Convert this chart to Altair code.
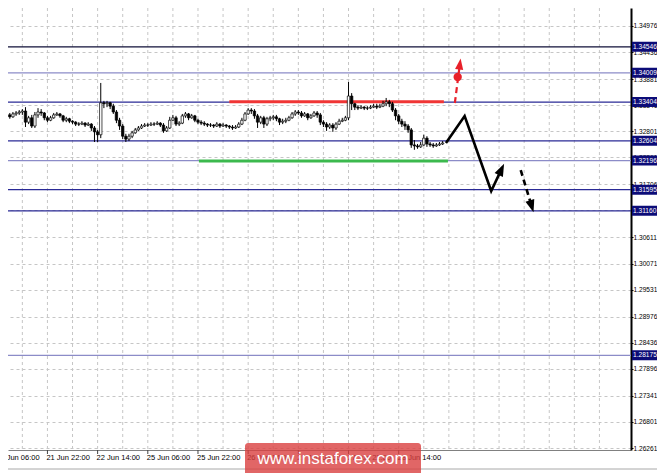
import altair as alt
import pandas as pd

# ---------------- data ----------------
# H1 bar index (0 = 21 Jun 06:00)
bar_t = list(range(3, 143))

bar_open = [
    1.3316, 1.3314, 1.3310, 1.3316, 1.3318, 1.3320, 1.3322, 1.3299, 1.3308, 1.3291,
    1.3314, 1.3320, 1.3318, 1.3308, 1.3303, 1.3308, 1.3314, 1.3316, 1.3312, 1.3303,
    1.3306, 1.3301, 1.3299, 1.3295, 1.3295, 1.3297, 1.3293, 1.3295, 1.3287, 1.3279,
    1.3273, 1.3339, 1.3337, 1.3339, 1.3332, 1.3320, 1.3303, 1.3291, 1.3270, 1.3264,
    1.3270, 1.3277, 1.3283, 1.3287, 1.3291, 1.3293, 1.3293, 1.3295, 1.3295, 1.3297,
    1.3293, 1.3281, 1.3287, 1.3303, 1.3308, 1.3295, 1.3297, 1.3312, 1.3316, 1.3308,
    1.3312, 1.3303, 1.3299, 1.3297, 1.3295, 1.3293, 1.3293, 1.3291, 1.3295, 1.3291,
    1.3293, 1.3291, 1.3289, 1.3287, 1.3289, 1.3295, 1.3303, 1.3316, 1.3324, 1.3322,
    1.3312, 1.3299, 1.3308, 1.3295, 1.3306, 1.3308, 1.3310, 1.3306, 1.3299, 1.3301,
    1.3303, 1.3308, 1.3316, 1.3320, 1.3318, 1.3312, 1.3316, 1.3308, 1.3312, 1.3318,
    1.3314, 1.3299, 1.3295, 1.3289, 1.3293, 1.3287, 1.3295, 1.3301, 1.3303, 1.3308,
    1.3353, 1.3337, 1.3330, 1.3328, 1.3330, 1.3328, 1.3328, 1.3330, 1.3332, 1.3330,
    1.3332, 1.3337, 1.3341, 1.3337, 1.3324, 1.3312, 1.3301, 1.3295, 1.3291, 1.3283,
    1.3252, 1.3250, 1.3248, 1.3252, 1.3266, 1.3254, 1.3252, 1.3250, 1.3252, 1.3254,
]
bar_high = [
    1.3320, 1.3318, 1.3320, 1.3322, 1.3324, 1.3326, 1.3330, 1.3312, 1.3314, 1.3320,
    1.3328, 1.3326, 1.3320, 1.3312, 1.3312, 1.3318, 1.3320, 1.3318, 1.3314, 1.3310,
    1.3308, 1.3303, 1.3301, 1.3299, 1.3301, 1.3299, 1.3299, 1.3297, 1.3291, 1.3283,
    1.3380, 1.3343, 1.3343, 1.3341, 1.3337, 1.3324, 1.3308, 1.3295, 1.3275, 1.3275,
    1.3281, 1.3287, 1.3291, 1.3295, 1.3297, 1.3297, 1.3299, 1.3299, 1.3301, 1.3299,
    1.3297, 1.3291, 1.3310, 1.3314, 1.3312, 1.3301, 1.3316, 1.3320, 1.3318, 1.3316,
    1.3314, 1.3306, 1.3303, 1.3301, 1.3297, 1.3297, 1.3295, 1.3299, 1.3297, 1.3297,
    1.3295, 1.3293, 1.3293, 1.3293, 1.3299, 1.3308, 1.3320, 1.3328, 1.3328, 1.3326,
    1.3316, 1.3312, 1.3312, 1.3310, 1.3312, 1.3314, 1.3314, 1.3308, 1.3306, 1.3308,
    1.3312, 1.3320, 1.3324, 1.3324, 1.3322, 1.3320, 1.3318, 1.3316, 1.3322, 1.3322,
    1.3318, 1.3303, 1.3299, 1.3297, 1.3297, 1.3299, 1.3306, 1.3308, 1.3312, 1.3382,
    1.3359, 1.3339, 1.3334, 1.3334, 1.3332, 1.3332, 1.3334, 1.3337, 1.3337, 1.3337,
    1.3343, 1.3349, 1.3345, 1.3341, 1.3328, 1.3316, 1.3306, 1.3301, 1.3295, 1.3287,
    1.3262, 1.3254, 1.3258, 1.3273, 1.3270, 1.3258, 1.3256, 1.3256, 1.3258, 1.3260,
]
bar_low = [
    1.3308, 1.3306, 1.3308, 1.3312, 1.3314, 1.3314, 1.3289, 1.3295, 1.3287, 1.3287,
    1.3308, 1.3312, 1.3303, 1.3299, 1.3301, 1.3306, 1.3312, 1.3308, 1.3299, 1.3299,
    1.3297, 1.3295, 1.3291, 1.3291, 1.3293, 1.3289, 1.3291, 1.3281, 1.3258, 1.3258,
    1.3266, 1.3328, 1.3330, 1.3326, 1.3316, 1.3297, 1.3283, 1.3264, 1.3258, 1.3260,
    1.3266, 1.3275, 1.3281, 1.3285, 1.3289, 1.3289, 1.3291, 1.3291, 1.3293, 1.3289,
    1.3277, 1.3279, 1.3285, 1.3301, 1.3291, 1.3291, 1.3295, 1.3308, 1.3303, 1.3306,
    1.3299, 1.3295, 1.3293, 1.3291, 1.3289, 1.3289, 1.3287, 1.3289, 1.3287, 1.3289,
    1.3287, 1.3285, 1.3283, 1.3285, 1.3287, 1.3293, 1.3301, 1.3314, 1.3316, 1.3306,
    1.3287, 1.3295, 1.3287, 1.3291, 1.3301, 1.3303, 1.3301, 1.3293, 1.3295, 1.3297,
    1.3301, 1.3306, 1.3312, 1.3314, 1.3308, 1.3310, 1.3303, 1.3306, 1.3310, 1.3308,
    1.3293, 1.3289, 1.3281, 1.3285, 1.3279, 1.3283, 1.3293, 1.3299, 1.3301, 1.3303,
    1.3324, 1.3324, 1.3324, 1.3326, 1.3324, 1.3324, 1.3326, 1.3328, 1.3326, 1.3328,
    1.3330, 1.3332, 1.3330, 1.3320, 1.3303, 1.3295, 1.3289, 1.3283, 1.3277, 1.3246,
    1.3242, 1.3244, 1.3246, 1.3250, 1.3248, 1.3248, 1.3246, 1.3248, 1.3250, 1.3252,
]
bar_close = [
    1.3314, 1.3310, 1.3316, 1.3318, 1.3320, 1.3322, 1.3299, 1.3308, 1.3291, 1.3314,
    1.3320, 1.3318, 1.3308, 1.3303, 1.3308, 1.3314, 1.3316, 1.3312, 1.3303, 1.3306,
    1.3301, 1.3299, 1.3295, 1.3295, 1.3297, 1.3293, 1.3295, 1.3287, 1.3279, 1.3273,
    1.3339, 1.3337, 1.3339, 1.3332, 1.3320, 1.3303, 1.3291, 1.3270, 1.3264, 1.3270,
    1.3277, 1.3283, 1.3287, 1.3291, 1.3293, 1.3293, 1.3295, 1.3295, 1.3297, 1.3293,
    1.3281, 1.3287, 1.3303, 1.3308, 1.3295, 1.3297, 1.3312, 1.3316, 1.3308, 1.3312,
    1.3303, 1.3299, 1.3297, 1.3295, 1.3293, 1.3293, 1.3291, 1.3295, 1.3291, 1.3293,
    1.3291, 1.3289, 1.3287, 1.3289, 1.3295, 1.3303, 1.3316, 1.3324, 1.3322, 1.3312,
    1.3299, 1.3308, 1.3295, 1.3306, 1.3308, 1.3310, 1.3306, 1.3299, 1.3301, 1.3303,
    1.3308, 1.3316, 1.3320, 1.3318, 1.3312, 1.3316, 1.3308, 1.3312, 1.3318, 1.3314,
    1.3299, 1.3295, 1.3289, 1.3293, 1.3287, 1.3295, 1.3301, 1.3303, 1.3308, 1.3353,
    1.3337, 1.3330, 1.3328, 1.3330, 1.3328, 1.3328, 1.3330, 1.3332, 1.3330, 1.3332,
    1.3337, 1.3341, 1.3337, 1.3324, 1.3312, 1.3301, 1.3295, 1.3291, 1.3283, 1.3252,
    1.3250, 1.3248, 1.3252, 1.3266, 1.3254, 1.3252, 1.3250, 1.3252, 1.3254, 1.3256,
]

price_ticks = [1.34976, 1.34436, 1.33881, 1.33341, 1.32801, 1.32261, 1.31706, 1.31166,
               1.30611, 1.30071, 1.29531, 1.28976, 1.28436, 1.27896, 1.27341, 1.26801, 1.26261]

time_ticks = [0, 16, 32, 48, 64, 80, 96, 112, 128]
time_labels = ["21 Jun 06:00", "21 Jun 22:00", "22 Jun 14:00", "25 Jun 06:00", "25 Jun 22:00",
               "26 Jun 14:00", "27 Jun 06:00", "27 Jun 22:00", "28 Jun 14:00"]
grid_t = [8, 16, 24, 32, 40, 48, 56, 64, 72, 80, 88, 96, 104, 112, 120, 128, 136, 144,
          152, 160, 168, 176, 184, 192]

levels = [1.34546, 1.34009, 1.33404, 1.32604, 1.32196, 1.31595, 1.31160, 1.28175]
level_kind = ["dark", "light", "navy", "navy", "light", "navy", "navy", "light"]

resist_t = [74.0, 142.4]
resist_p = [1.33410, 1.33410]
support_t = [64.3, 143.7]
support_p = [1.32190, 1.32190]

main_t = [143.06, 149.02, 157.49, 160.75]
main_p = [1.32560, 1.33117, 1.31568, 1.32015]
alt_t = [166.9, 170.4]
alt_p = [1.32002, 1.31252]
red_t = [145.9, 147.5]
red_p = [1.33386, 1.34191]
dot_t = [146.8]
dot_p = [1.33923]
head_t = [160.75, 170.4, 147.5]
head_p = [1.32015, 1.31252, 1.34191]
head_ang = [25.7, 162.8, 7.8]
head_col = ["black", "black", "red"]

# ---------------- chart ----------------
W, H = 623, 442
FONT = "Liberation Sans"
LAB_SIZE = 6.6
xs = alt.Scale(domain=[5.02, 200.47], nice=False, zero=False)
ys = alt.Scale(domain=[1.262197, 1.353477], nice=False, zero=False)
x_axis = alt.Axis(labels=False, ticks=False, grid=False, domainColor="#808080",
                  domainWidth=1, title=None)
y_axis = alt.Axis(orient="right", values=price_ticks, format=".5f", title=None,
                  labelFont=FONT, labelFontSize=LAB_SIZE, labelColor="black",
                  labelPadding=0, labelFlush=False, labelOverlap=False,
                  tickColor="black", tickSize=2, domainColor="black", domainWidth=2,
                  grid=True, gridDash=[3, 3], gridColor="#c6c6c6", gridWidth=1)


def X(f):
    return alt.X(f, type="quantitative", scale=xs, axis=x_axis)


def Y(f):
    return alt.Y(f, type="quantitative", scale=ys, axis=y_axis)


bars = pd.DataFrame({"t": bar_t, "o": bar_open, "h": bar_high, "l": bar_low, "c": bar_close})
lev = pd.DataFrame({"p": levels, "kind": level_kind,
                    "lab": [f"{v:.5f}" for v in levels]})
tl = pd.DataFrame({"t": time_ticks, "lab": time_labels})
gt = pd.DataFrame({"t": grid_t})
one = pd.DataFrame({"a": [0]})
heads_df = pd.DataFrame({"t": head_t, "p": head_p, "ang": head_ang, "col": head_col})

vgrid = alt.Chart(gt).mark_rule(strokeDash=[3, 3], color="#c6c6c6", strokeWidth=1).encode(
    x=X("t"))

level_lines = alt.Chart(lev).mark_rule(strokeWidth=1.2).encode(
    y=Y("p"),
    color=alt.Color("kind:N", scale=alt.Scale(domain=["dark", "navy", "light"],
                                              range=["#101038", "#2a2a96", "#8c8cc8"]),
                    legend=None))

resist = alt.Chart(pd.DataFrame({"t": resist_t, "p": resist_p})).mark_line(
    color="#f03535", strokeWidth=3).encode(x=X("t"), y=Y("p"))
support = alt.Chart(pd.DataFrame({"t": support_t, "p": support_p})).mark_line(
    color="#3cb94e", strokeWidth=3).encode(x=X("t"), y=Y("p"))

wicks = alt.Chart(bars).mark_rule(color="black", strokeWidth=1).encode(
    x=X("t"), y=Y("l"), y2="h")
bodies = alt.Chart(bars).mark_bar(size=2.4, stroke="black", strokeWidth=0.7).encode(
    x=X("t"), y=Y("o"), y2="c",
    fill=alt.condition("datum.c >= datum.o", alt.value("white"), alt.value("black")))

main_path = alt.Chart(pd.DataFrame({"t": main_t, "p": main_p, "k": [0, 1, 2, 3]})).mark_line(
    color="black", strokeWidth=2.6).encode(x=X("t"), y=Y("p"), order="k:Q")
alt_path = alt.Chart(pd.DataFrame({"t": alt_t, "p": alt_p})).mark_line(
    color="black", strokeWidth=2.6, strokeDash=[6, 4]).encode(x=X("t"), y=Y("p"))
red_path = alt.Chart(pd.DataFrame({"t": red_t, "p": red_p})).mark_line(
    color="#e8202a", strokeWidth=2.2, strokeDash=[6, 4]).encode(x=X("t"), y=Y("p"))
red_dot = alt.Chart(pd.DataFrame({"t": dot_t, "p": dot_p})).mark_point(
    filled=True, shape="circle", size=70, color="#e8202a", opacity=1).encode(x=X("t"), y=Y("p"))
heads_black = alt.Chart(heads_df).transform_filter("datum.col == 'black'").mark_point(
    filled=True, shape="M0,-1L0.75,1L-0.75,1Z", size=150, opacity=1, color="black").encode(
    x=X("t"), y=Y("p"), angle=alt.Angle("ang:Q", scale=None))
heads_red = alt.Chart(heads_df).transform_filter("datum.col == 'red'").mark_point(
    filled=True, shape="M0,-1L0.75,1L-0.75,1Z", size=120, opacity=1, color="#e8202a").encode(
    x=X("t"), y=Y("p"), angle=alt.Angle("ang:Q", scale=None))

lab_box = alt.Chart(lev).mark_rule(strokeWidth=10, color="#0c0c78").encode(
    y=Y("p"), x=alt.value(W + 1), x2=alt.value(W + 50))
lab_txt = alt.Chart(lev).mark_text(align="left", baseline="middle", font=FONT,
                                   fontSize=LAB_SIZE, color="white").encode(
    y=Y("p"), x=alt.value(W + 2), text="lab:N")

t_ticks = alt.Chart(tl).mark_rule(color="#404040", strokeWidth=1).encode(
    x=X("t"), y=alt.value(H), y2=alt.value(H + 4))
t_text = alt.Chart(tl).mark_text(align="left", baseline="middle", font=FONT,
                                 fontSize=7.5, color="black", dx=-1).encode(
    x=X("t"), y=alt.value(H + 8), text="lab:N")

tab_line = alt.Chart(one).mark_rule(color="#a8a8a8", strokeWidth=1).encode(
    x=alt.value(-10), x2=alt.value(700), y=alt.value(H + 19))

wm_rect = alt.Chart(one).mark_rect(color="#d94040", opacity=0.8, cornerRadius=3).encode(
    x=alt.value(237), x2=alt.value(413), y=alt.value(H - 7), y2=alt.value(H + 40))
wm_text = alt.Chart(pd.DataFrame({"s": ["www.instaforex.com"]})).mark_text(
    align="center", baseline="middle", font=FONT, fontSize=17, color="white").encode(
    x=alt.value(325), y=alt.value(H + 9), text="s:N")

chart = alt.layer(
    vgrid, level_lines, resist, support, wicks, bodies,
    main_path, alt_path, red_path, red_dot, heads_black, heads_red,
    lab_box, lab_txt, t_ticks, t_text, tab_line, wm_rect, wm_text,
).properties(
    width=W, height=H,
    autosize=alt.AutoSizeParams(type="none"),
    padding={"left": 0, "top": 0, "right": 26, "bottom": 23},
    background="white",
).configure_view(stroke=None)

chart.save("out.html", embed_options={"renderer": "svg", "actions": False})
